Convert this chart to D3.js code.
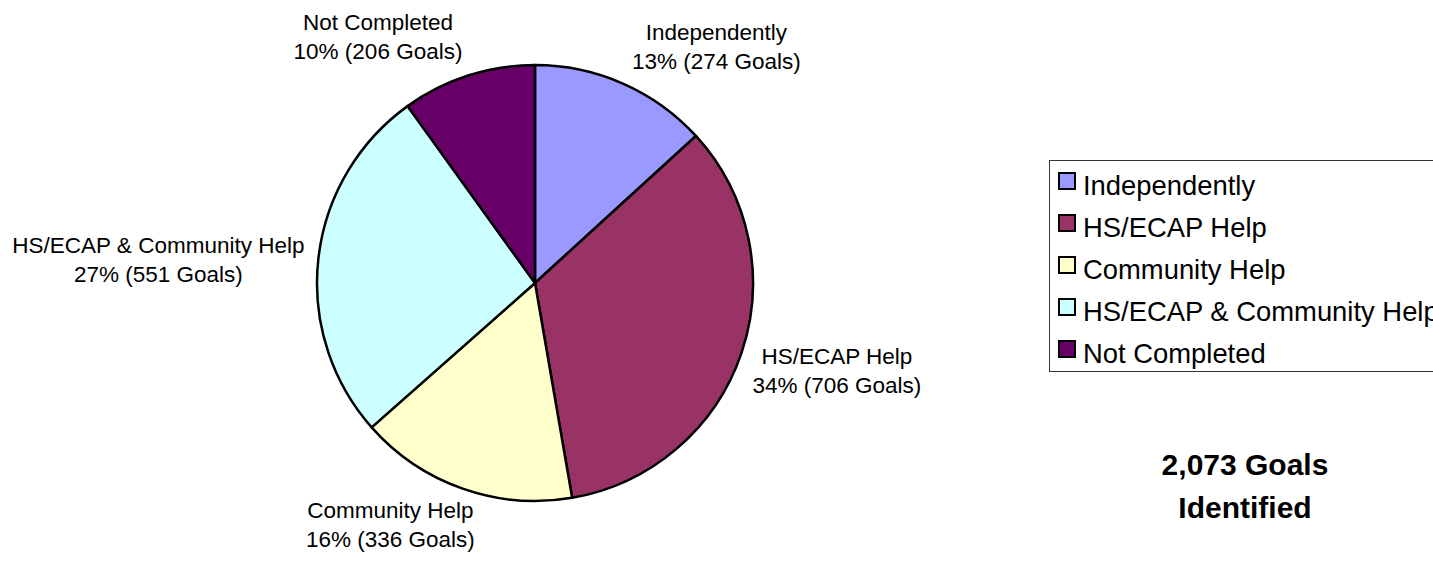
<!DOCTYPE html>
<html>
<head>
<meta charset="utf-8">
<script src="https://cdn.jsdelivr.net/npm/d3@7"></script>
<style>
  html, body { margin: 0; padding: 0; background: #fff; overflow: hidden; }
  svg { display: block; font-family: "Liberation Sans", Arial, sans-serif; }
</style>
</head>
<body>
<svg id="chart" width="1433" height="564"></svg>
<script>
// ---- data ----
const categories = ["Independently", "HS/ECAP Help", "Community Help", "HS/ECAP & Community Help", "Not Completed"];
const goals = [274, 706, 336, 551, 206];
const colors = ["#9999FF", "#993366", "#FFFFCC", "#CCFFFF", "#660066"];
const totalLabel = ["2,073 Goals", "Identified"];

// ---- layout ----
const W = 1433, H = 564;
const cx = 535, cy = 283, R = 218;
const labelFont = 22.5, labelGap = 15, labelLineH = 29;
const labelNudge = [[3, 0], [-3, 1], [17, -7], [1, 3], [-1, -1]];

const svg = d3.select("#chart");
const total = d3.sum(goals);
const data = categories.map((c, i) => ({ name: c, value: goals[i], color: colors[i], i }));

const pie = d3.pie().sort(null).value(d => d.value);
const arcs = pie(data);
const arc = d3.arc().innerRadius(0).outerRadius(R);

const g = svg.append("g").attr("transform", `translate(${cx},${cy})`);
g.selectAll("path.slice")
  .data(arcs)
  .enter().append("path")
  .attr("class", "slice")
  .attr("d", arc)
  .attr("fill", d => d.data.color)
  .attr("stroke", "#000")
  .attr("stroke-width", 2.5)
  .attr("stroke-linejoin", "round");

// ---- labels ----
const pct = d3.format(".0%");
const measure = svg.append("text").attr("font-size", labelFont).attr("visibility", "hidden");
function textW(s) { measure.text(s); return measure.node().getComputedTextLength(); }

arcs.forEach((a, i) => {
  const mid = (a.startAngle + a.endAngle) / 2;
  const sx = Math.sin(mid), sy = -Math.cos(mid);
  const line1 = a.data.name;
  const line2 = `${pct(a.data.value / total)} (${a.data.value} Goals)`;
  const w = Math.max(textW(line1), textW(line2));
  const h = 56;
  const ax = cx + sx * (R + labelGap), ay = cy + sy * (R + labelGap);
  const lx = ax + Math.sign(sx) * w / 2 + labelNudge[i][0];
  const ly = ay + sy * h / 2 + labelNudge[i][1];
  const t = svg.append("text")
    .attr("text-anchor", "middle")
    .attr("font-size", labelFont)
    .attr("fill", "#000");
  t.append("tspan").attr("x", lx).attr("y", ly - 4).text(line1);
  t.append("tspan").attr("x", lx).attr("y", ly - 4 + labelLineH).text(line2);
});
measure.remove();

// ---- legend ----
const lg = svg.append("g");
lg.append("rect")
  .attr("x", 1049.5).attr("y", 160.5)
  .attr("width", 420).attr("height", 211)
  .attr("fill", "#fff").attr("stroke", "#333").attr("stroke-width", 1);
const rowY = d3.scalePoint().domain(categories).range([195, 363]);
categories.forEach((c, i) => {
  const y = rowY(c);
  lg.append("rect")
    .attr("x", 1059).attr("y", y - 22)
    .attr("width", 16).attr("height", 16)
    .attr("fill", colors[i]).attr("stroke", "#000").attr("stroke-width", 2);
  lg.append("text")
    .attr("x", 1083).attr("y", y)
    .attr("font-size", 27.4)
    .attr("fill", "#000")
    .text(c);
});

// ---- total ----
const tt = svg.append("text")
  .attr("text-anchor", "middle")
  .attr("font-size", 30)
  .attr("font-weight", "bold")
  .attr("fill", "#000");
totalLabel.forEach((s, i) => {
  tt.append("tspan").attr("x", 1245).attr("y", 475 + i * 43).text(s);
});
</script>
</body>
</html>
